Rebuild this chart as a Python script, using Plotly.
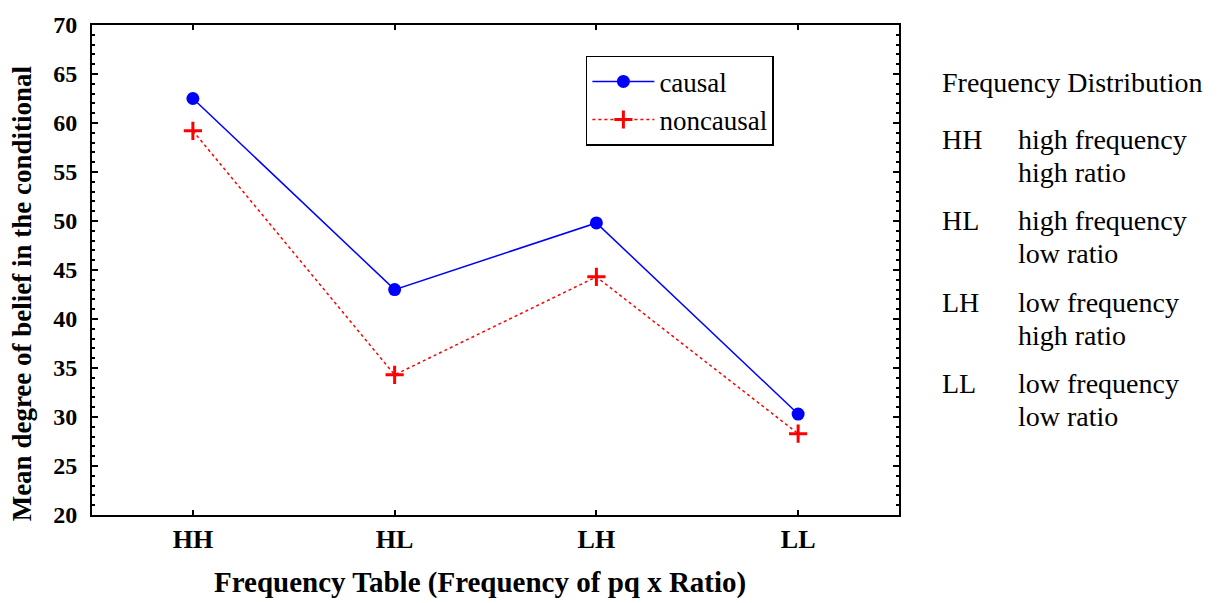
import plotly.graph_objects as go

categories = ["HH", "HL", "LH", "LL"]
causal = [62.5, 43.0, 49.8, 30.3]
noncausal = [59.2, 34.3, 44.3, 28.3]
y_ticks = [20, 25, 30, 35, 40, 45, 50, 55, 60, 65, 70]
key_codes = ["HH", "HL", "LH", "LL"]
key_line1 = ["high frequency", "high frequency", "low frequency", "low frequency"]
key_line2 = ["high ratio", "low ratio", "high ratio", "low ratio"]
x_title = "Frequency Table (Frequency of pq x Ratio)"
y_title = "Mean degree of belief in the conditional"

SERIF = "Liberation Serif"

fig = go.Figure()
fig.add_trace(go.Scatter(
    x=list(range(len(categories))), y=causal, name="causal",
    mode="lines+markers",
    line=dict(color="#0000ff", width=1.5),
    marker=dict(symbol="circle", size=13, color="#0000ff"),
))
fig.add_trace(go.Scatter(
    x=list(range(len(categories))), y=noncausal, name="noncausal",
    mode="lines+markers",
    line=dict(color="#ff0000", width=1.5, dash="dot"),
    marker=dict(symbol="cross-thin", size=13, color="#ff0000",
                line=dict(color="#ff0000", width=3)),
))

fig.update_layout(
    width=1221, height=603,
    margin=dict(l=92, r=322, t=22, b=88),
    paper_bgcolor="white", plot_bgcolor="white",
    font=dict(family=SERIF, color="black"),
    showlegend=True,
    legend=dict(
        x=0.612, y=0.937, xanchor="left", yanchor="top",
        bordercolor="black", borderwidth=1.5, bgcolor="white",
        font=dict(size=27, family=SERIF),
        tracegroupgap=0, itemwidth=62,
    ),
    xaxis=dict(
        range=[-0.5, 3.5],
        tickmode="array", tickvals=list(range(len(categories))), ticktext=categories,
        ticks="inside", ticklen=5, tickwidth=1.5, tickcolor="black",
        showline=True, linecolor="black", linewidth=2, mirror="ticks",
        showgrid=False, zeroline=False,
        tickfont=dict(size=26, family=SERIF, weight="bold"),
        ticklabelstandoff=0,
    ),
    yaxis=dict(
        range=[20, 70],
        tickmode="array", tickvals=y_ticks,
        ticks="inside", ticklen=6, tickwidth=1.5, tickcolor="black",
        minor=dict(ticks="inside", dtick=1, ticklen=3, tickwidth=1.5, tickcolor="black", showgrid=False),
        showline=True, linecolor="black", linewidth=2, mirror="ticks",
        showgrid=False, zeroline=False,
        tickfont=dict(size=24, family=SERIF, weight="bold"),
        ticklabelstandoff=8,
    ),
)

def px_x(px):
    return (px - 92) / 807.0

def px_y(py):
    return (515 - py) / 493.0

fig.add_annotation(text="<b>" + x_title + "</b>", xref="paper", yref="paper",
                   x=px_x(480), y=px_y(583), xanchor="center", yanchor="middle",
                   showarrow=False, font=dict(size=29, family=SERIF))
fig.add_annotation(text="<b>" + y_title + "</b>", xref="paper", yref="paper",
                   x=px_x(22), y=px_y(292), xanchor="center", yanchor="middle",
                   textangle=-90, showarrow=False, font=dict(size=27, family=SERIF))

fig.add_annotation(text="Frequency Distribution", xref="paper", yref="paper",
                   x=px_x(940), y=px_y(80), xanchor="left", yanchor="middle",
                   showarrow=False, font=dict(size=28, family=SERIF))
for i, code in enumerate(key_codes):
    y0 = 137 + 82 * i
    fig.add_annotation(text=code, xref="paper", yref="paper",
                       x=px_x(940), y=px_y(y0), xanchor="left", yanchor="middle",
                       showarrow=False, font=dict(size=28, family=SERIF))
    fig.add_annotation(text=key_line1[i], xref="paper", yref="paper",
                       x=px_x(1016), y=px_y(y0), xanchor="left", yanchor="middle",
                       showarrow=False, font=dict(size=28, family=SERIF))
    fig.add_annotation(text=key_line2[i], xref="paper", yref="paper",
                       x=px_x(1016), y=px_y(y0 + 33), xanchor="left", yanchor="middle",
                       showarrow=False, font=dict(size=28, family=SERIF))

fig.write_html("out.html", config={"displayModeBar": False},
               post_script="document.body.style.margin='0px';")
